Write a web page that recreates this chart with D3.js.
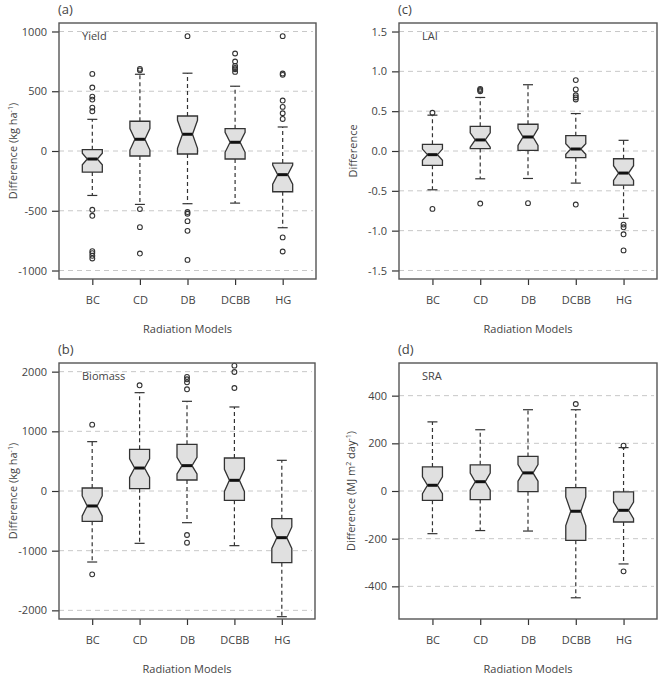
<!DOCTYPE html>
<html lang="en">
<head>
    <meta charset="UTF-8">
    <title>Radiation model differences</title>
    <script src="https://d3js.org/d3.v7.min.js"></script>
    <style>
        body { margin: 0; background: #fff; }
        text { font-family: "Open Sans", "Noto Sans", sans-serif; fill: #444; }
    </style>
</head>
<body>
    <div id="chart"></div>

    <script>
        // Radiation models (x categories)
        var models = ["BC", "CD", "DB", "DCBB", "HG"];

        // Box stats per model: [lower whisker, Q1, median, Q3, upper whisker]
        var yieldBoxes = [[-372, -176, -67, 11, 265], [-447, -42, 98, 249, 642], [-441, -25, 140, 293, 651],
                          [-436, -67, 73, 187, 542], [-642, -341, -198, -101, 201]];
        var yieldNotch = [48, 90, 117, 84, 80];
        var yieldOutliers = [[645, 531, 455, 430, 363, 332, -492, -542, -838, -855, -877, -899],
                             [687, 675, -486, -637, -858],
                             [961, -511, -525, -587, -668, -911],
                             [816, 749, 712, 695, 684, 662],
                             [961, 648, 637, 422, 369, 316, 268, -723, -841]];
        var yieldTicks = [-1000, -500, 0, 500, 1000];

        var biomassBoxes = [[-1190, -508, -251, 50, 827], [-877, 39, 385, 698, 1648], [-531, 184, 425, 782, 1503],
                            [-916, -156, 179, 553, 1408], [-2106, -1201, -782, -464, 514]];
        var biomassNotch = [168, 156, 140, 185, 180];
        var biomassOutliers = [[1112, -1397], [1771], [1911, 1872, 1821, 1704, -737, -866], [2101, 1994, 1726], []];
        var biomassTicks = [-2000, -1000, 0, 1000, 2000];

        var laiBoxes = [[-0.487, -0.18, -0.046, 0.084, 0.45], [-0.349, 0.03, 0.139, 0.31, 0.672],
                        [-0.345, 0.008, 0.176, 0.336, 0.832], [-0.403, -0.084, 0.025, 0.193, 0.47],
                        [-0.845, -0.429, -0.277, -0.097, 0.134]];
        var laiNotch = [0.07, 0.09, 0.105, 0.067, 0.092];
        var laiOutliers = [[0.48, -0.727], [0.78, 0.765, 0.75, -0.66], [-0.655],
                           [0.89, 0.773, 0.70, 0.672, 0.647, -0.672], [-0.924, -0.958, -1.046, -1.248]];
        var laiTicks = [-1.5, -1.0, -0.5, 0.0, 0.5, 1.0, 1.5];

        var sraBoxes = [[-179, -39, 24, 101, 290], [-166, -36, 39, 110, 257], [-168, -3, 76, 145, 341],
                        [-448, -207, -85, 14, 341], [-306, -130, -81, -4, 182]];
        var sraNotch = [35, 36, 35, 60, 35];
        var sraOutliers = [[], [], [], [365], [190, -337]];
        var sraTicks = [-400, -200, 0, 200, 400];

        var svg = d3.select("#chart").append("svg")
            .attr("width", 672)
            .attr("height", 683);

        var panels = [
            { tag: "(a)", name: "Yield", boxes: yieldBoxes, notch: yieldNotch, outliers: yieldOutliers,
              ticks: yieldTicks, domain: [-1071, 1071], fmt: String,
              title: [["Difference (kg ha"], ["-1", "sup"], [")"]],
              left: 59, right: 316, top: 23, bottom: 279, titleX: 13 },
            { tag: "(c)", name: "LAI", boxes: laiBoxes, notch: laiNotch, outliers: laiOutliers,
              ticks: laiTicks, domain: [-1.607, 1.607], fmt: function(d) { return d.toFixed(1); },
              title: [["Difference"]],
              left: 399, right: 657, top: 23, bottom: 279, titleX: 353 },
            { tag: "(b)", name: "Biomass", boxes: biomassBoxes, notch: biomassNotch, outliers: biomassOutliers,
              ticks: biomassTicks, domain: [-2145, 2145], fmt: String,
              title: [["Difference (kg ha"], ["-1", "sup"], [")"]],
              left: 59, right: 315, top: 363, bottom: 619, titleX: 13 },
            { tag: "(d)", name: "SRA", boxes: sraBoxes, notch: sraNotch, outliers: sraOutliers,
              ticks: sraTicks, domain: [-537, 537], fmt: String,
              title: [["Difference (MJ m"], ["2", "sup"], [" day"], ["-1", "sup"], [")"]],
              left: 399, right: 657, top: 363, bottom: 619, titleX: 351 }
        ];

        var boxHalf = 10, capHalf = 5;

        panels.forEach(function(p) {
            var g = svg.append("g");

            var x = d3.scaleLinear().domain([0.3, models.length + 0.7]).range([p.left, p.right]);
            var y = d3.scaleLinear().domain(p.domain).range([p.bottom, p.top]);

            // dashed grid lines at the ticks
            g.selectAll(".grid")
             .data(p.ticks)
             .enter().append("line")
             .attr("x1", p.left).attr("x2", p.right - 3)
             .attr("y1", function(d) { return y(d); })
             .attr("y2", function(d) { return y(d); })
             .attr("stroke", "#c8c8c8")
             .attr("stroke-width", 1)
             .attr("stroke-dasharray", "5,4");

            // y axis
            var yAxis = g.append("g")
               .attr("transform", "translate(" + p.left + ",0)")
               .call(d3.axisLeft(y).tickValues(p.ticks).tickFormat(p.fmt).tickSize(7).tickPadding(5));
            yAxis.select(".domain").remove();
            yAxis.selectAll("line").attr("stroke", "#333").attr("stroke-width", 1.2);
            yAxis.selectAll("text").style("font-size", "11px").attr("fill", "#444")
                 .style("font-family", "'Open Sans', sans-serif");

            // x axis
            var xAxis = g.append("g")
               .attr("transform", "translate(0," + p.bottom + ")")
               .call(d3.axisBottom(x).tickValues(d3.range(1, models.length + 1))
                     .tickFormat(function(d) { return models[d - 1]; }).tickSize(6).tickPadding(11));
            xAxis.select(".domain").remove();
            xAxis.selectAll("line").attr("stroke", "#333").attr("stroke-width", 1.2);
            xAxis.selectAll("text").style("font-size", "11px").attr("fill", "#444")
                 .style("font-family", "'Open Sans', sans-serif");

            var groups = g.selectAll(".box")
               .data(p.boxes)
               .enter().append("g")
               .attr("class", "box");

            groups.each(function(b, i) {
                var cx = x(i + 1), gg = d3.select(this);

                // whiskers and caps
                [[b[3], b[4]], [b[1], b[0]]].forEach(function(seg) {
                    gg.append("line")
                      .attr("x1", cx).attr("x2", cx)
                      .attr("y1", y(seg[0])).attr("y2", y(seg[1]))
                      .attr("stroke", "#333").attr("stroke-width", 1.2)
                      .attr("stroke-dasharray", "4,3");
                    gg.append("line")
                      .attr("x1", cx - capHalf).attr("x2", cx + capHalf)
                      .attr("y1", y(seg[1])).attr("y2", y(seg[1]))
                      .attr("stroke", "#333").attr("stroke-width", 1.2);
                });

                // notched box
                var lo = b[2] - p.notch[i], hi = b[2] + p.notch[i];
                var pts = [[cx - boxHalf, y(b[1])], [cx - boxHalf, y(lo)], [cx - boxHalf / 2, y(b[2])],
                           [cx - boxHalf, y(hi)], [cx - boxHalf, y(b[3])], [cx + boxHalf, y(b[3])],
                           [cx + boxHalf, y(hi)], [cx + boxHalf / 2, y(b[2])], [cx + boxHalf, y(lo)],
                           [cx + boxHalf, y(b[1])]];
                gg.append("polygon")
                  .attr("points", pts.map(function(q) { return q.join(","); }).join(" "))
                  .attr("fill", "#e0e0e0")
                  .attr("stroke", "#333")
                  .attr("stroke-width", 1.3);

                // median
                gg.append("line")
                  .attr("x1", cx - boxHalf / 2).attr("x2", cx + boxHalf / 2)
                  .attr("y1", y(b[2])).attr("y2", y(b[2]))
                  .attr("stroke", "#111").attr("stroke-width", 3);

                // outliers
                gg.selectAll("circle")
                  .data(p.outliers[i])
                  .enter().append("circle")
                  .attr("cx", cx)
                  .attr("cy", function(d) { return y(d); })
                  .attr("r", 2.4)
                  .attr("fill", "none")
                  .attr("stroke", "#333")
                  .attr("stroke-width", 1.1);
            });

            // frame
            g.append("rect")
             .attr("x", p.left).attr("y", p.top)
             .attr("width", p.right - p.left).attr("height", p.bottom - p.top)
             .attr("fill", "none")
             .attr("stroke", "#555")
             .attr("stroke-width", 1.4);

            // labels
            g.append("text")
             .attr("x", p.left - 1).attr("y", p.top - 9)
             .style("font-size", "13px")
             .text(p.tag);

            g.append("text")
             .attr("x", p.left + 23).attr("y", p.top + 17)
             .style("font-size", "11px")
             .text(p.name);

            g.append("text")
             .attr("x", (p.left + p.right) / 2).attr("y", p.bottom + 54)
             .attr("text-anchor", "middle")
             .style("font-size", "11px")
             .text("Radiation Models");

            // rotated y title with superscripts
            var t = g.append("text")
             .attr("transform", "translate(" + p.titleX + "," + ((p.top + p.bottom) / 2) + ") rotate(-90)")
             .attr("text-anchor", "middle")
             .attr("dy", "0.35em")
             .style("font-size", "11px");
            p.title.forEach(function(part, k) {
                var s = t.append("tspan").text(part[0]);
                if (part[1] === "sup") {
                    s.style("font-size", "7px").attr("dy", "-0.5em");
                } else if (k > 0 && p.title[k - 1][1] === "sup") {
                    s.attr("dy", "0.32em");
                }
            });
        });
    </script>
</body>
</html>
